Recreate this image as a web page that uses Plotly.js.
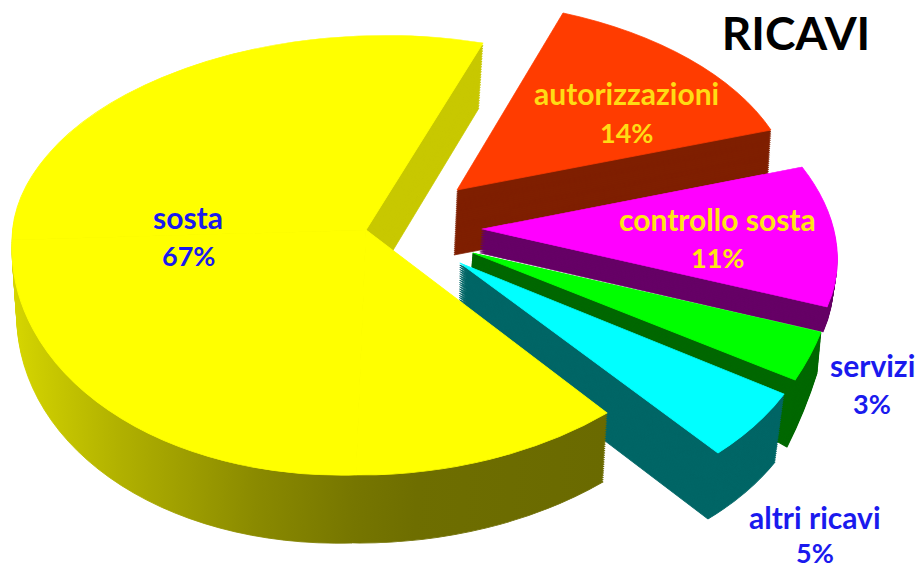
<!DOCTYPE html>
<html>
<head>
<meta charset="utf-8">
<script src="https://cdn.plot.ly/plotly-3.0.1.min.js"></script>
<style>html,body{margin:0;padding:0;background:#fff}#chart{width:922px;height:569px}</style>
</head>
<body>
<div id="chart"></div>
<script>
// ---- data ----
var categories = ['autorizzazioni', 'controllo sosta', 'servizi', 'altri ricavi', 'sosta'];
var shares = [14, 11, 3, 5, 67];
var percentLabels = ['14%', '11%', '3%', '5%', '67%'];
// the big slice is drawn in three parts so that its rim can follow the perspective
var sostaParts = [11.72, 25, 30.28];
var chartTitle = 'RICAVI';

// ---- styles ----
var topColors = ['#ff3c00', '#ff00ff', '#00ff00', '#00ffff', '#ffff00'];
var wallColors = ['#7f1f00', '#660066', '#006800', '#006666', '#c8c800'];
var textColors = ['#ffdc14', '#ffe614', '#1a1aee', '#1a1aee', '#1a1aee'];
var startAngle = 19;

// ---- projection of each piece: apex and the two rim corners, top face and base face ----
var pieces = [
  {idx:0, n:30, top:[[457,190],[563,13],[771,130]], base:[[454,255],[563,78],[767,195]]},
  {idx:1, n:12, top:[[482,229],[802,167],[827,307]], base:[[480,253],[798,191],[823,332]]},
  {idx:2, n:30, top:[[473,253],[821,332],[795,380]], base:[[472,267],[817,373],[787,447]]},
  {idx:3, n:30, top:[[460,263],[784,394],[718,453]], base:[[459,330],[775,462],[708,519]]},
  {idx:6, n:24, top:[[366,230],[12,240],[483,43]], base:[[366,295],[17,305],[479,108]], grad:null},
  {idx:5, n:30, top:[[366,230],[356,475],[12,240]], base:[[366,295],[352,543],[17,305]], grad:'gradLeft'},
  {idx:4, n:30, top:[[366,230],[607,413],[356,475]], base:[[366,295],[603,482],[352,543]], grad:'gradRight'}
];

var allValues = shares.slice(0, 4).concat(sostaParts);
var allLabels = categories.slice(0, 4).concat(['sosta a', 'sosta b', 'sosta c']);
var total = allValues.reduce(function (s, v) { return s + v; }, 0);

function colorOf(i, list) { return list[Math.min(i, 4)]; }
function angles(idx) {
  var before = 0;
  for (var i = 0; i < idx; i++) before += allValues[i];
  return [startAngle + before / total * 360, startAngle + (before + allValues[idx]) / total * 360];
}
function makeTrace(idx, color) {
  return {
    type: 'pie', values: allValues, labels: allLabels, sort: false, direction: 'clockwise',
    rotation: startAngle, textinfo: 'none', hoverinfo: 'skip', showlegend: false,
    domain: {x: [0, 1], y: [0, 1]},
    marker: {
      colors: allValues.map(function (v, i) { return i === idx ? color : 'rgba(0,0,0,0)'; }),
      line: {
        color: allValues.map(function (v, i) { return i === idx ? color : 'rgba(0,0,0,0)'; }),
        width: allValues.map(function (v, i) { return i === idx ? 0.8 : 0; })
      }
    }
  };
}
function mix(a, b, t) { return a + (b - a) * t; }
function geom(piece, t) {
  return piece.top.map(function (p, k) {
    return [mix(piece.base[k][0], p[0], t), mix(piece.base[k][1], p[1], t)];
  });
}

var traces = [], geoms = [], grads = [];
pieces.forEach(function (piece) {
  for (var k = 0; k <= piece.n; k++) {
    var t = k / (piece.n + 1);
    traces.push(makeTrace(piece.idx, colorOf(piece.idx, wallColors)));
    geoms.push({g: geom(piece, t), idx: piece.idx});
    grads.push(piece.grad || null);
  }
});
pieces.forEach(function (piece) {
  traces.push(makeTrace(piece.idx, colorOf(piece.idx, topColors)));
  geoms.push({g: geom(piece, 1), idx: piece.idx});
  grads.push(null);
});

function px(x) { return x / 922; }
function py(y) { return 1 - y / 569; }
function note(text, x, y, color, size) {
  return {text: text, x: px(x), y: py(y), xref: 'paper', yref: 'paper', showarrow: false,
    xanchor: 'center', yanchor: 'middle',
    font: {family: 'Lato, sans-serif', size: size, color: color, weight: 700, style: 'normal'}};
}
var labelPos = [[626, 93, 132], [717, 219, 257], [872, 365, 403], [815, 517, 552], [188, 217, 255]];
var annotations = [];
categories.forEach(function (c, i) {
  annotations.push(note(c, labelPos[i][0], labelPos[i][1], textColors[i], 30));
  annotations.push(note(percentLabels[i], labelPos[i][0], labelPos[i][2], textColors[i], 27));
});

var layout = {
  width: 922, height: 569, margin: {l: 0, r: 0, t: 0, b: 0},
  paper_bgcolor: '#ffffff', showlegend: false, annotations: annotations,
  title: {text: chartTitle, x: 796 / 922, y: 1 - 34 / 569, xanchor: 'center', yanchor: 'middle',
    xref: 'paper', yref: 'paper', font: {family: 'Lato, sans-serif', size: 46, color: '#000', weight: 700}}
};

Plotly.newPlot('chart', traces, layout, {staticPlot: true, displayModeBar: false}).then(function () {
  var svg = document.querySelector('#chart .main-svg');
  var NS = 'http://www.w3.org/2000/svg';
  var defs = document.createElementNS(NS, 'defs');
  function addGrad(id, stops) {
    var g = document.createElementNS(NS, 'linearGradient');
    g.setAttribute('id', id); g.setAttribute('x1', '0'); g.setAttribute('x2', '1');
    g.setAttribute('y1', '0'); g.setAttribute('y2', '0');
    stops.forEach(function (s) {
      var st = document.createElementNS(NS, 'stop');
      st.setAttribute('offset', s[0]); st.setAttribute('stop-color', s[1]);
      g.appendChild(st);
    });
    defs.appendChild(g);
  }
  addGrad('gradLeft', [[0, '#d6d600'], [0.33, '#b0b000'], [0.72, '#8a8a00'], [1, '#767600']]);
  addGrad('gradRight', [[0, '#767600'], [0.25, '#6e6e00'], [1, '#6a6a00']]);
  svg.insertBefore(defs, svg.firstChild);

  var R = 284.5, cx = 461, cy = 284.5;
  var groups = document.querySelectorAll('#chart .pielayer .trace');
  groups.forEach(function (el, i) {
    var spec = geoms[i], g = spec.g, th = angles(spec.idx);
    var p0 = g[0];
    var rad = Math.PI / 180;
    var u1 = [Math.sin(th[0] * rad), -Math.cos(th[0] * rad)];
    var u2 = [Math.sin(th[1] * rad), -Math.cos(th[1] * rad)];
    var v1 = [g[1][0] - p0[0], g[1][1] - p0[1]];
    var v2 = [g[2][0] - p0[0], g[2][1] - p0[1]];
    var det = u1[0] * u2[1] - u2[0] * u1[1];
    var inv = [u2[1] / det, -u2[0] / det, -u1[1] / det, u1[0] / det];
    var a = (v1[0] * inv[0] + v2[0] * inv[2]) / R;
    var c = (v1[0] * inv[1] + v2[0] * inv[3]) / R;
    var b = (v1[1] * inv[0] + v2[1] * inv[2]) / R;
    var d = (v1[1] * inv[1] + v2[1] * inv[3]) / R;
    el.setAttribute('transform', 'translate(' + p0[0] + ',' + p0[1] + ') matrix(' +
      [a, b, c, d, 0, 0].join(',') + ') translate(' + (-cx) + ',' + (-cy) + ')');
    if (grads[i]) {
      var path = el.querySelectorAll('path.surface')[spec.idx];
      if (path) { path.style.fill = 'url(#' + grads[i] + ')'; path.style.stroke = 'url(#' + grads[i] + ')'; }
    }
  });
});
</script>
</body>
</html>
